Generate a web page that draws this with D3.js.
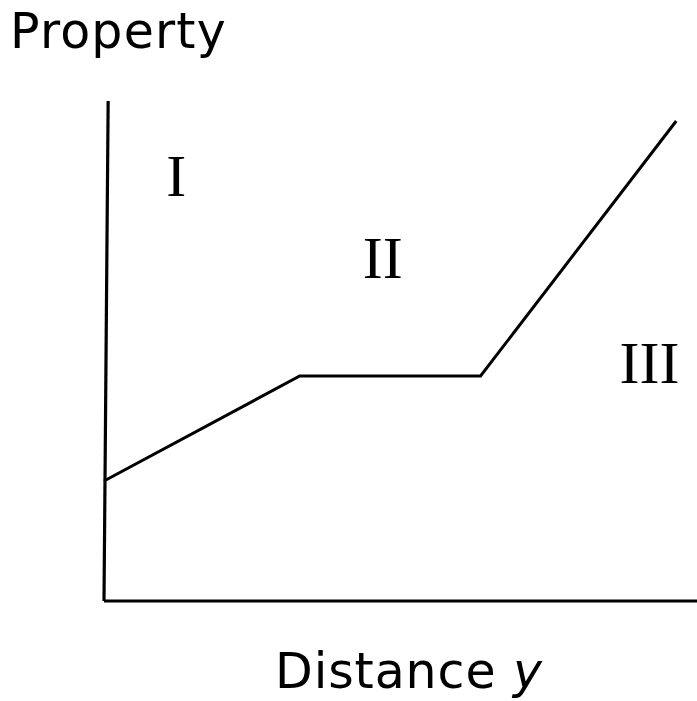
<!DOCTYPE html>
<html>
<head>
<meta charset="utf-8">
<script src="https://cdn.jsdelivr.net/npm/d3@7"></script>
<style>
  html, body { margin: 0; padding: 0; background: #fff; }
  svg { display: block; }
</style>
</head>
<body>
<div id="chart"></div>
<script>
// profile of the property across the three regions
var distance = [0, 3.3, 6.35, 9.65];
var property = [2.4, 4.5, 4.5, 9.6];

// axis lines (the vertical one leans a little in the original drawing)
var yAxisX = [0, 0.07];
var yAxisY = [0, 10];
var xAxisX = [0, 10];
var xAxisY = [0, 0];

var regionNames = ["I", "II", "III"];
var regionX = [1.22, 4.7, 9.2];
var regionY = [8.1, 6.46, 4.36];

var xTitle = "Distance ";
var xTitleVar = "y";
var yTitle = "Property";

const width = 697,
  height = 701;

const xScale = d3.scaleLinear().domain([0, 10]).range([104, 697]);
const yScale = d3.scaleLinear().domain([0, 10]).range([601, 101]);

const svg = d3
  .select("#chart")
  .append("svg")
  .attr("width", width)
  .attr("height", height);

const line = d3
  .line()
  .x((d) => xScale(d[0]))
  .y((d) => yScale(d[1]));

// axes
svg
  .append("path")
  .attr("d", line(d3.zip(yAxisX, yAxisY)))
  .attr("fill", "none")
  .attr("stroke", "#000")
  .attr("stroke-width", 3.2);

svg
  .append("path")
  .attr("d", line(d3.zip(xAxisX, xAxisY)))
  .attr("fill", "none")
  .attr("stroke", "#000")
  .attr("stroke-width", 3.2);

// property curve
svg
  .append("path")
  .attr("class", "profile")
  .attr("d", line(d3.zip(distance, property)))
  .attr("fill", "none")
  .attr("stroke", "#000")
  .attr("stroke-width", 3)
  .attr("stroke-linejoin", "miter");

// region labels
svg
  .selectAll(".region")
  .data(regionNames)
  .enter()
  .append("text")
  .attr("class", "region")
  .attr("x", (d, i) => xScale(regionX[i]))
  .attr("y", (d, i) => yScale(regionY[i]))
  .attr("text-anchor", "middle")
  .attr("font-family", "'Liberation Serif', 'Times New Roman', serif")
  .attr("font-size", 60)
  .attr("fill", "#000")
  .text((d) => d);

// titles
svg
  .append("text")
  .attr("x", 10)
  .attr("y", 48)
  .attr("font-family", "'DejaVu Sans', Verdana, sans-serif")
  .attr("font-size", 49)
  .attr("letter-spacing", 1.2)
  .attr("fill", "#000")
  .text(yTitle);

const xt = svg
  .append("text")
  .attr("x", 275)
  .attr("y", 688)
  .attr("font-family", "'DejaVu Sans', Verdana, sans-serif")
  .attr("font-size", 49)
  .attr("letter-spacing", 0.9)
  .attr("fill", "#000")
  .attr("xml:space", "preserve")
  .style("white-space", "pre");
xt.append("tspan").text(xTitle);
xt.append("tspan").attr("font-style", "italic").text(xTitleVar);
</script>
</body>
</html>
